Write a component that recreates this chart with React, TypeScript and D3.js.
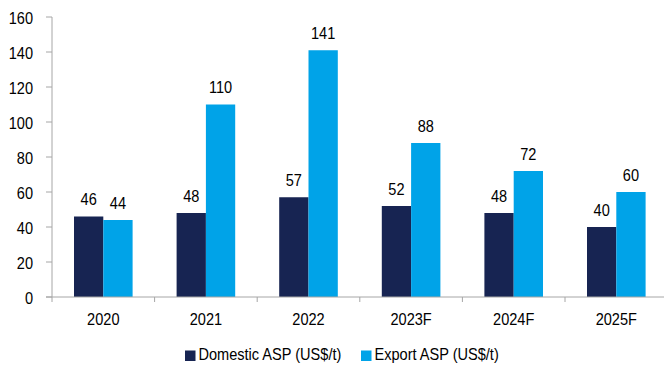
import React from "react";
import * as d3 from "d3";

const categories = ["2020", "2021", "2022", "2023F", "2024F", "2025F"];
const domestic = [46, 48, 57, 52, 48, 40];
const exportAsp = [44, 110, 141, 88, 72, 60];
const yTicks = [0, 20, 40, 60, 80, 100, 120, 140, 160];
const seriesNames = ["Domestic ASP (US$/t)", "Export ASP (US$/t)"];
const colors = ["#172452", "#00A3E8"];

const SX = 0.91;

function T({ x, y, anchor = "start", children }: { x: number; y: number; anchor?: string; children: React.ReactNode }) {
  return (
    <text transform={`translate(${x},${y}) scale(${SX},1)`} textAnchor={anchor} fontSize={16} fill="#000">
      {children}
    </text>
  );
}

export default function App() {
  const W = 664, H = 367;
  const x0 = 52, x1 = 667.6, yBottom = 297, yTop = 17;
  const x = d3.scaleBand().domain(categories).range([x0, x1]).paddingInner(0).paddingOuter(0);
  const y = d3.scaleLinear().domain([0, 160]).range([yBottom, yTop]);
  const barW = 29.3;
  const font = "'Liberation Sans', Arial, sans-serif";
  const axisColor = "#a6a6a6";
  const series = [domestic, exportAsp];
  return (
    <svg width={W} height={H} style={{ position: "absolute", left: 0, top: 0, background: "#fff" }} fontFamily={font}>
      {categories.map((c, i) => {
        const cx = (x(c) as number) + x.bandwidth() / 2;
        return series.map((s, k) => {
          const bx = cx - barW + k * barW;
          const v = s[i];
          return (
            <g key={c + k}>
              <rect x={bx} y={y(v)} width={barW} height={yBottom - y(v)} fill={colors[k]} />
              <T x={bx + barW / 2} y={y(v) - 11.5} anchor="middle">{v}</T>
            </g>
          );
        });
      })}
      <line x1={x0} x2={x0} y1={yTop} y2={yBottom} stroke={axisColor} strokeWidth={1} />
      {yTicks.map((t) => (
        <g key={t}>
          <line x1={x0 - 6} x2={x0} y1={y(t)} y2={y(t)} stroke={axisColor} strokeWidth={1} />
          <T x={33} y={y(t) + 6.5} anchor="end">{t}</T>
        </g>
      ))}
      <line x1={x0 - 6} x2={W} y1={yBottom} y2={yBottom} stroke={axisColor} strokeWidth={1} />
      {categories.map((c) => (
        <g key={c}>
          <line x1={x(c) as number} x2={x(c) as number} y1={yBottom} y2={yBottom + 5} stroke={axisColor} strokeWidth={1} />
          <T x={(x(c) as number) + x.bandwidth() / 2} y={yBottom + 28} anchor="middle">{c}</T>
        </g>
      ))}
      <rect x={185} y={350.5} width={10.5} height={10.5} fill={colors[0]} />
      <T x={198.5} y={360}>{seriesNames[0]}</T>
      <rect x={361} y={350.5} width={10.5} height={10.5} fill={colors[1]} />
      <T x={374.5} y={360}>{seriesNames[1]}</T>
    </svg>
  );
}
